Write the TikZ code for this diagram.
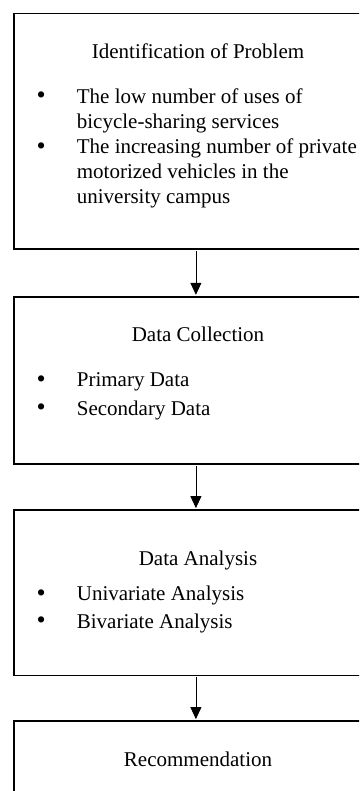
\documentclass[tikz,border=0pt]{standalone}
\usepackage{fontspec}
\setmainfont{Liberation Serif}
\usetikzlibrary{arrows.meta}
\begin{document}
\begin{tikzpicture}[x=1pt,y=-1pt,
  box/.style={draw=black, line width=1.8pt, rectangle, anchor=north west, minimum width=364.6pt, inner sep=0pt},
  ttl/.style={inner sep=0pt, anchor=base, font=\fontsize{21}{25}\selectfont},
  txt/.style={inner sep=0pt, anchor=base west, font=\fontsize{21}{25}\selectfont},
  bul/.style={inner sep=0pt, anchor=base, font=\fontsize{26}{30}\selectfont},
  conn/.style={draw=black, line width=0.8pt, -{Triangle[width=11pt,length=12pt]}, shorten >=0.9pt, shorten <=0.9pt}]
\clip (0,0) rectangle (359,791);
\fill[white] (0,0) rectangle (359,791);
% boxes
\node[box, minimum height=235.8pt] (box1) at (12.7,12.7) {};
\node[box, minimum height=167.6pt] (box2) at (12.7,295.7) {};
\node[box, minimum height=165.5pt] (box3) at (12.7,509) {};
\node[box, minimum height=170pt] (box4) at (12.7,720) {};
% box 1 text
\node[ttl] (t1) at (198,59) {Identification of Problem};
\node[bul] (b11) at (41.2,104) {•};
\node[txt] (l11) at (76.7,103.5) {The low number of uses of};
\node[txt] (l12) at (76.7,128.5) {bicycle-sharing services};
\node[bul] (b12) at (41.2,154.5) {•};
\node[txt] (l13) at (76.7,154) {The increasing number of private};
\node[txt] (l14) at (76.7,179) {motorized vehicles in the};
\node[txt] (l15) at (76.7,204) {university campus};
% box 2 text
\node[ttl] (t2) at (198,341.7) {Data Collection};
\node[bul] (b21) at (41.2,387.2) {•};
\node[txt] (l21) at (76.7,386.7) {Primary Data};
\node[bul] (b22) at (41.2,415.5) {•};
\node[txt] (l22) at (76.7,415) {Secondary Data};
% box 3 text
\node[ttl] (t3) at (198,565) {Data Analysis};
\node[bul] (b31) at (41.2,601.2) {•};
\node[txt] (l31) at (76.7,600.7) {Univariate Analysis};
\node[bul] (b32) at (41.2,628.8) {•};
\node[txt] (l32) at (76.7,628.3) {Bivariate Analysis};
% box 4 text
\node[ttl] (t4) at (198,766) {Recommendation};
% connectors
\draw[conn] (box1.south) -- (box2.north);
\draw[conn] (box2.south) -- (box3.north);
\draw[conn] (box3.south) -- (box4.north);
\end{tikzpicture}
\end{document}
